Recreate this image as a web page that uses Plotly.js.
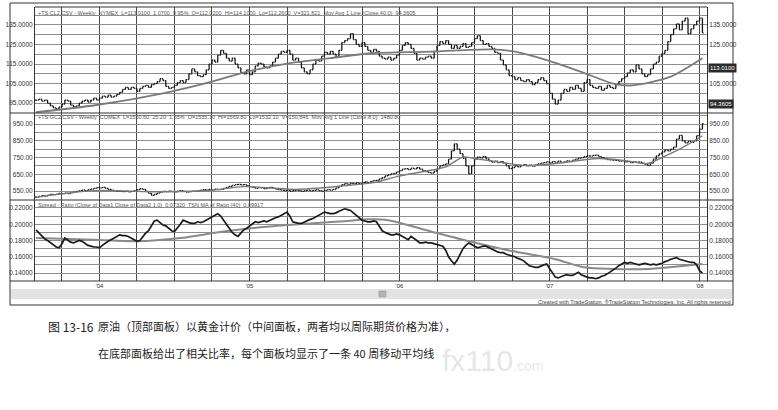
<!DOCTYPE html>
<html><head><meta charset="utf-8">
<script src="https://cdn.plot.ly/plotly-3.0.1.min.js"></script>
<style>html,body{margin:0;padding:0;background:#fff;}#chart{width:778px;height:410px;}</style>
</head><body><div id="chart"></div>
<script>
// ---- data (weekly) ----
const crudeClose = [
96.5,97,96,96.5, 95,93.5,92.5,92,93, 94.5,96.5,96, 94,93,93.5,
95,96,96.5,95.5,96.5,97.5,96.5, 97.5,98.5,98,99,98,98.5,99.5,
100.5,102,103,102,103,102.5,101, 102.5,103.5,104,103,104.5,105,106,
107.5,106.5, 103.5,102.5,103,104, 105.5,106.5,105.5,107, 110,112.5,111,109,
108.5,109.5,112, 115,117,116, 119.5,122,120.5, 118,116.5,118, 115,113,
110.5,110, 112, 109.5,111, 114,115.5,115,113.5, 113,114,116, 118,
120,121.5,121,122,120, 117,118,116,113, 111,110,112, 115,117,116.5,
119,121,120,121.5,120, 118.5, 122,126,127,128,130.5, 127.5,
125,124,126,124,122,121, 122.5,121.5, 119,118,117.5,118.5,117,118,119.5,
122,124.5,126,125,123,120.5, 117,118,117.5,118.5,119,118,121.5,
124.5,126.5,125.5,127,125,123, 124.5,123,124,125.5,123.5,124,126,
128,129.5,127,125, 125.5,124,123, 121,120.5,117,114.5,112,
109,108.5,107,108,106.5, 106,107,106,104.5,105.5, 107,108,106.5,105,
100,97,94.5,96.5, 100,102,101,103,102, 104,102.5,101, 105.5,107,
104,103,102.5,103.5,101.5,102.5, 104,103,102.5,104.5,106,
107.5,108.5,110.5,112,111, 114.5,112.5, 110,108.5,109.5,
112.5,115,116,119, 120.5,122,126.5, 130,133,135.5,132.5,137,138.5,
130.5, 133,135,137,138.5,131];
const crudeMAWeek  = [0, 21, 44, 61, 73, 88, 102, 116, 137, 158, 166, 177, 189, 200, 206, 214, 220, 231];
const crudeMAValue = [90.3, 94, 100, 106, 111, 115.4, 118, 120.5, 121.3, 122.5, 121.3, 117, 111, 105, 104, 106, 108.5, 118];

const goldClose = [
514,518,522,520,526,530,528, 532,536,534,538,535,540,544, 548,552,556,553,558,562,
566,570,568,572,566, 560,556,552,548,550,546,549,545,548,552, 558,564,560,548,536,
524,530,538, 544,548,546,550,547,545,549,552,548,544,546,550,548,
552,556,558,555,560,557,562,558,560, 566,572,578,584,588,590,586,588,
582,576,572,566,570,568,564,568,572,566,
562,558,556,552,554,550,553,556,552,548,552,555,551,554,557,553,550,554,558,556,560,
568,578,588,594,590,596,592,598,594, 598,604,600,608,612,614,
622,630,640,646,652,656,664,672, 680,684,678,686,682,690,680,
672,666,660,657,668,684, 700,706,712,740,790, 832,800,773,745,700,
653,700,740,753,748,756,742,730, 722,728,720,726,716,700, 683,690,700,694,
702,708,700,704,698,706,712,716,720, 724,718,726,722,728,720,724,730,726,
734,740,746,750,756,760,758,762, 764,756,750,744,738,736,734,
733,728,730,724,726,720,724,722, 723,716,710,703,716,740,
760,772,784,796,790,800,812, 860,882, 850,838,846,840,850, 880,920,952];
const goldMAWeek  = [0, 20, 40, 60, 72, 90, 105, 118, 125, 135, 142, 148, 152, 160, 170, 180, 195, 205, 212, 218, 225, 231];
const goldMAValue = [512, 552, 546, 553, 576, 560, 578, 603, 636, 668, 694, 752, 744, 724, 702, 714, 744, 730, 714, 758, 818, 880];

const ratio = [
.193,.189,.185,.182,.180,.177,.175,.172,.171,.176,
.183,.180,.178,.177,.179,.180,.179,.176,.174,.173,
.172,.172,.171,.174,.177,.179,.181,.183,.185,.187,
.186,.186,.185,.183,.181,.179,.180,.185,.189,.192,
.198,.204,.205,.202,.199,.198,.195,.192,.191,.195,
.200,.205,.203,.202,.201,.201,.203,.202,.203,.205,
.207,.209,.211,.213,.210,.205,.199,.194,.190,.187,
.185,.189,.193,.195,.198,.201,.203,.202,.203,.204,
.203,.205,.207,.208,.209,.211,.213,.215,.210,.203,
.202,.201,.201,.203,.205,.206,.207,.209,.211,.213,
.215,.214,.213,.213,.214,.216,.218,.219,.218,.217,
.214,.211,.207,.205,.204,.203,.203,.204,.203,.197,
.192,.190,.188,.187,.187,.188,.187,.185,.183,.181,
.185,.183,.180,.177,.177,.178,.177,.177,.176,.175,
.174,.173,.168,.160,.155,.151,.156,.163,.170,.174,
.177,.175,.173,.171,.172,.173,.173,.171,.169,.167,
.166,.165,.165,.163,.162,.161,.160,.158,.157,.155,
.152,.149,.148,.147,.147,.149,.150,.151,.146,.140,
.135,.134,.136,.137,.138,.137,.137,.139,.141,.138,
.136,.135,.134,.134,.133,.134,.136,.137,.139,.141,
.143,.146,.149,.151,.153,.152,.153,.152,.151,.150,
.151,.152,.151,.150,.151,.150,.151,.152,.154,.155,
.157,.158,.159,.157,.156,.155,.154,.153,.153,.150,
.143,.140];
const ratioMAWeek  = [0, 20, 35, 50, 65, 80, 95, 108, 115, 122, 135, 150, 165, 180, 190, 200, 212, 225, 231];
const ratioMAValue = [.183, .181, .179, .183, .191, .197, .201, .204, .206, .205, .193, .179, .167, .157, .147, .145, .145, .149, .151];

// axis ticks
const quarterTicks  = [9,22,35,48,61,74,87,100,113,126,139,152,165,178,191,204,217,230];
const quarterLabels = ['',"'04",'','','',"'05",'','','',"'06",'','','',"'07",'','','',"'08"];
const crudeTicks     = [90,95,100,105,110,115,120,125,130,135,140];
const crudeLabels    = ['','95.0000','','105.0000','','115.0000','','125.0000','','135.0000',''];
const crudeLabelsR   = ['','','','105.0000','','','','125.0000','','135.0000',''];
const goldTicks      = [500,550,600,650,700,750,800,850,900,950,1000];
const goldLabels     = ['','550.00','','650.00','','750.00','','850.00','','950.00',''];
const ratioTicks     = [0.14,0.15,0.16,0.17,0.18,0.19,0.20,0.21,0.22];
const ratioLabels    = ['0.14000','','0.16000','','0.18000','','0.20000','','0.22000'];
const lastMarks      = [113.01, 94.3605];
const lastMarkText   = ['113.0100', '94.3605'];

// headers / texts
const hdrCrude = '+TS:CL2.CSV - Weekly  NYMEX  L=113.0100  1.0700  0.95%  O=112.0200  Hi=114.1000  Lo=112.2600  V=321,821  Mov Avg 1 Line (Close,40,0)  94.3605';
const hdrGold  = '+TS:GC2.CSV - Weekly  COMEX  L=1550.60  25.20  1.65%  O=1535.10  Hi=1569.80  Lo=1532.10  V=150,846  Mov Avg 1 Line (Close,8,0)  1480.80';
const hdrRatio = 'Spread - Ratio (Close of Data1,Close of Data2,1,0)  0.07320  TSN MA of Ratio (40)  0.09917';
const credit   = 'Created with TradeStation, ®TradeStation Technologies, Inc. All rights reserved';
const capNum   = '图 13-16';
const capLine1 = '原油（顶部面板）以黄金计价（中间面板，两者均以周际期货价格为准），';
const capLine2 = '在底部面板给出了相关比率，每个面板均显示了一条 40 周移动平均线';
const watermark = 'fx110<span style="font-size:14px">.com</span>';

// ---- build ----
const weeks = crudeClose.map((_, i) => i);
const prevOpen = arr => arr.map((v, i) => i === 0 ? v : arr[i - 1]);
const crudeOpen = prevOpen(crudeClose);
const goldOpen = prevOpen(goldClose);
const hi = (o, c) => o.map((v, i) => Math.max(v, c[i]));
const lo = (o, c) => o.map((v, i) => Math.min(v, c[i]));

const L = 35, R = 707, T = 7, B = 281;
const PX = px => (px - L) / (R - L);
const PY = py => (B - py) / (B - T);

const tickFont = {family: 'Liberation Sans, Arial, sans-serif', size: 6.5, color: '#333'};
const bar = {color: '#111', width: 1.25};

const traces = [
  {type: 'ohlc', x: weeks, open: crudeOpen, high: hi(crudeOpen, crudeClose), low: lo(crudeOpen, crudeClose), close: crudeClose,
   xaxis: 'x', yaxis: 'y', increasing: {line: bar}, decreasing: {line: bar}, tickwidth: 0.4, hoverinfo: 'skip', showlegend: false},
  {type: 'scatter', mode: 'lines', x: crudeMAWeek, y: crudeMAValue, xaxis: 'x', yaxis: 'y4',
   line: {color: '#7a7a7a', width: 1.8, shape: 'spline', smoothing: 0.8}, hoverinfo: 'skip', showlegend: false},
  {type: 'ohlc', x: weeks, open: goldOpen, high: hi(goldOpen, goldClose), low: lo(goldOpen, goldClose), close: goldClose,
   xaxis: 'x', yaxis: 'y2', increasing: {line: bar}, decreasing: {line: bar}, tickwidth: 0.4, hoverinfo: 'skip', showlegend: false},
  {type: 'scatter', mode: 'lines', x: goldMAWeek, y: goldMAValue, xaxis: 'x', yaxis: 'y5',
   line: {color: '#7a7a7a', width: 1.4, shape: 'spline', smoothing: 0.8}, hoverinfo: 'skip', showlegend: false},
  {type: 'scatter', mode: 'lines', x: ratioMAWeek, y: ratioMAValue, xaxis: 'x', yaxis: 'y3',
   line: {color: '#8a8a8a', width: 2, shape: 'spline', smoothing: 0.8}, hoverinfo: 'skip', showlegend: false},
  {type: 'scatter', mode: 'lines', x: weeks, y: ratio, xaxis: 'x', yaxis: 'y6',
   line: {color: '#1a1a1a', width: 1.7}, hoverinfo: 'skip', showlegend: false}
];

const yBase = {anchor: 'x', showgrid: true, gridcolor: '#8e8e8e', gridwidth: 1, zeroline: false,
  showline: true, linecolor: '#333', linewidth: 1, ticks: '', tickfont: tickFont, tickmode: 'array', fixedrange: true};
const yRight = {anchor: 'x', side: 'right', showgrid: false, zeroline: false, showline: true, linecolor: '#333',
  linewidth: 1, ticks: '', tickfont: tickFont, tickmode: 'array', fixedrange: true};

const crudeRange = [89.9, 144.2], goldRange = [496.3, 1015.7], ratioRange = [0.1302, 0.2298];
const d1 = [PY(113), 1], d2 = [PY(200), PY(113)], d3 = [0, PY(200)];

const layout = {
  width: 778, height: 410, margin: {l: L, r: 778 - R, t: T, b: 410 - B},
  paper_bgcolor: '#fff', plot_bgcolor: '#fff', showlegend: false,
  font: {family: 'Liberation Sans, Arial, sans-serif', color: '#333'},
  xaxis: {domain: [0, 1], range: [-0.35, 232.58], anchor: 'y3', tickmode: 'array', tickvals: quarterTicks, ticktext: quarterLabels,
    showgrid: true, gridcolor: '#4a4a4a', gridwidth: 1, zeroline: false, showline: false, ticks: '',
    tickfont: {family: 'Liberation Sans, Arial, sans-serif', size: 6, color: '#333'}, rangeslider: {visible: false}, fixedrange: true},
  yaxis:  Object.assign({}, yBase, {domain: d1, range: crudeRange, tickvals: crudeTicks, ticktext: crudeLabels}),
  yaxis2: Object.assign({}, yBase, {domain: d2, range: goldRange, tickvals: goldTicks, ticktext: goldLabels}),
  yaxis3: Object.assign({}, yBase, {domain: d3, range: ratioRange, tickvals: ratioTicks, ticktext: ratioLabels}),
  yaxis4: Object.assign({}, yRight, {overlaying: 'y', range: crudeRange, tickvals: crudeTicks, ticktext: crudeLabelsR}),
  yaxis5: Object.assign({}, yRight, {overlaying: 'y2', range: goldRange, tickvals: goldTicks, ticktext: goldLabels}),
  yaxis6: Object.assign({}, yRight, {overlaying: 'y3', range: ratioRange, tickvals: ratioTicks, ticktext: ratioLabels}),
  shapes: [
    {type: 'rect', xref: 'paper', yref: 'paper', x0: PX(10), x1: PX(733), y0: PY(305), y1: PY(3), line: {color: '#333', width: 1}},
    {type: 'line', xref: 'paper', yref: 'paper', x0: PX(10), x1: PX(733), y0: PY(113), y1: PY(113), line: {color: '#333', width: 1}},
    {type: 'line', xref: 'paper', yref: 'paper', x0: PX(10), x1: PX(733), y0: PY(200), y1: PY(200), line: {color: '#333', width: 1}},
    {type: 'line', xref: 'paper', yref: 'paper', x0: PX(10), x1: PX(733), y0: PY(281), y1: PY(281), line: {color: '#333', width: 1}},
    {type: 'line', xref: 'paper', yref: 'paper', x0: 0, x1: 1, y0: 1, y1: 1, line: {color: '#333', width: 1}},
    {type: 'rect', xref: 'paper', yref: 'paper', x0: PX(11), x1: PX(732), y0: PY(299), y1: PY(289), fillcolor: '#e3e3e3', line: {width: 0}},
    {type: 'rect', xref: 'paper', yref: 'paper', x0: PX(379), x1: PX(386), y0: PY(297), y1: PY(291), fillcolor: '#b5b5b5', line: {color: '#888', width: 0.5}}
  ],
  annotations: [
    {xref: 'paper', yref: 'paper', x: PX(36), y: PY(13), xanchor: 'left', yanchor: 'middle', text: hdrCrude, showarrow: false, font: {size: 5.5, color: '#555'}},
    {xref: 'paper', yref: 'paper', x: PX(36), y: PY(117), xanchor: 'left', yanchor: 'middle', text: hdrGold, showarrow: false, font: {size: 5.5, color: '#555'}},
    {xref: 'paper', yref: 'paper', x: PX(36), y: PY(205), xanchor: 'left', yanchor: 'middle', text: hdrRatio, showarrow: false, font: {size: 5.5, color: '#555'}},
    {xref: 'paper', yref: 'y', x: PX(708), y: lastMarks[0], xanchor: 'left', yanchor: 'middle', text: lastMarkText[0], showarrow: false,
      bgcolor: '#2b2b2b', borderpad: 1, font: {size: 6, color: '#fff'}},
    {xref: 'paper', yref: 'y', x: PX(708), y: lastMarks[1], xanchor: 'left', yanchor: 'middle', text: lastMarkText[1], showarrow: false,
      bgcolor: '#2b2b2b', borderpad: 1, font: {size: 6, color: '#fff'}},
    {xref: 'paper', yref: 'paper', x: PX(733), y: PY(302), xanchor: 'right', yanchor: 'middle', text: credit, showarrow: false, font: {size: 5.5, color: '#444'}},
    {xref: 'paper', yref: 'paper', x: PX(46), y: PY(326), xanchor: 'left', yanchor: 'middle', text: capNum, showarrow: false,
      font: {family: 'Noto Sans CJK SC', size: 12, color: '#222'}},
    {xref: 'paper', yref: 'paper', x: PX(96), y: PY(326), xanchor: 'left', yanchor: 'middle', text: capLine1, showarrow: false,
      font: {family: 'Noto Sans CJK SC', size: 11, color: '#222'}},
    {xref: 'paper', yref: 'paper', x: PX(96), y: PY(353), xanchor: 'left', yanchor: 'middle', text: capLine2, showarrow: false,
      font: {family: 'Noto Sans CJK SC', size: 11, color: '#222'}},
    {xref: 'paper', yref: 'paper', x: PX(440), y: PY(360), xanchor: 'left', yanchor: 'middle', text: watermark, showarrow: false,
      font: {family: 'Liberation Sans, Arial, sans-serif', size: 30, color: 'rgba(200,200,200,0.45)'}}
  ]
};

Plotly.newPlot('chart', traces, layout, {staticPlot: true, displayModeBar: false});
</script>
</body></html>
